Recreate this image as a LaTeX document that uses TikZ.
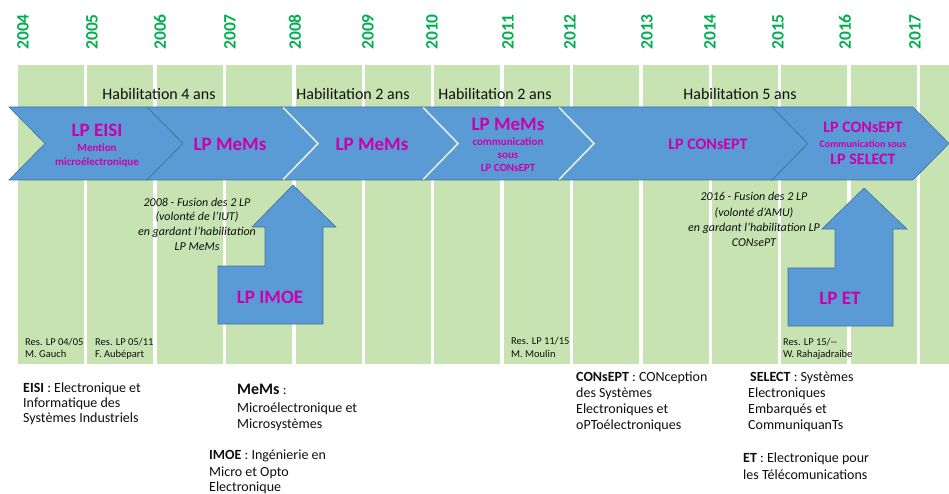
\documentclass[tikz,border=0pt]{standalone}
\usepackage{fontspec}
\setmainfont{Carlito}
\definecolor{yeargreen}{RGB}{0,176,80}
\definecolor{colgreen}{RGB}{200,227,178}
\definecolor{chevblue}{RGB}{91,155,213}
\definecolor{chevline}{RGB}{65,113,156}
\definecolor{lightline}{RGB}{226,240,217}
\definecolor{lpmag}{RGB}{204,0,170}
\definecolor{bodytext}{RGB}{15,15,15}
\tikzset{
  yearlbl/.style={rotate=90, text=yeargreen, inner sep=0,
    font=\fontsize{17.5}{18}\selectfont\bfseries},
  colbar/.style={fill=colgreen, draw=none},
  habil/.style={anchor=base, inner sep=0, text=bodytext, font=\fontsize{16}{18}\selectfont},
  chev/.style={fill=chevblue, draw=chevline, line width=0.6pt, line join=miter},
  notchlight/.style={draw=lightline, line width=1.6pt},
  uparrow/.style={fill=chevblue, draw=chevline, line width=0.6pt},
  lpbig/.style={anchor=base, inner sep=0, text=lpmag,
    font=\fontsize{19}{21}\selectfont\bfseries},
  lpmid/.style={anchor=base, inner sep=0, text=lpmag,
    font=\fontsize{16}{18}\selectfont\bfseries},
  lpsmall/.style={anchor=base, inner sep=0, text=lpmag,
    font=\fontsize{11}{13}\selectfont\bfseries},
  lptiny/.style={anchor=base, inner sep=0, text=lpmag,
    font=\fontsize{10}{12}\selectfont\bfseries},
  note/.style={anchor=base, inner sep=0, text=bodytext,
    font=\fontsize{12}{14}\selectfont\itshape},
  resp/.style={anchor=base west, inner sep=0, text=bodytext,
    font=\fontsize{10.5}{12}\selectfont},
  gloss/.style={anchor=base west, inner sep=0, text=bodytext,
    font=\fontsize{14}{16}\selectfont},
}
\begin{document}
\begin{tikzpicture}[x=1pt, y=-1pt]
\useasboundingbox (0,0) rectangle (949,494);
\fill[white] (0,0) rectangle (949,494);

% year columns
\foreach \i in {0,...,13} {
  \fill[colgreen] ({18+69.4*\i},65) rectangle ({18+69.4*\i+66},364);
}

% year labels
\foreach \yr/\xx [count=\k] in {2004/23,2005/92,2006/160,2007/230,2008/295,
    2009/368,2010/432,2011/508,2012/570,2013/647,2014/710,2015/778,
    2016/845,2017/915} {
  \node[yearlbl] (yr\k) at (\xx,32) {\yr};
}

% accreditation periods
\node[habil] (hab1) at (159,100) {Habilitation 4 ans};
\node[habil] (hab2) at (353,100) {Habilitation 2 ans};
\node[habil] (hab3) at (495,100) {Habilitation 2 ans};
\node[habil] (hab4) at (740,100) {Habilitation 5 ans};

% chevron band
\foreach \L/\R in {9/147,147/282,282/422,422/558,558/772,772/913} {
  \filldraw[chev] (\L,107) -- (\R,107) -- (\R+36,143.5) -- (\R,180)
    -- (\L,180) -- (\L+36,143.5) -- cycle;
}
\foreach \L in {282,422,558} {
  \draw[notchlight] (\L+1,107.5) -- (\L+36,143.5) -- (\L+1,179.5);
}

% programme names in the band
\node[lpbig]   (eisi)   at (97,137)    {LP EISI};
\node[lpsmall] (eisiA)  at (97,151.5)  {Mention};
\node[lpsmall] (eisiB)  at (97,165.5)  {microélectronique};
\node[lpbig]   (mems1)  at (230,151)   {LP MeMs};
\node[lpbig]   (mems2)  at (372,151)   {LP MeMs};
\node[lpbig]   (mems3)  at (508,131)   {LP MeMs};
\node[lpsmall] (mems3A) at (508,145.5) {communication};
\node[lpsmall] (mems3B) at (508,158.5) {sous};
\node[lpsmall] (mems3C) at (508,171.5) {LP CONsEPT};
\node[lpmid]   (cons1)  at (708,150)   {LP CONsEPT};
\node[lpmid]   (cons2)  at (863,133)   {LP CONsEPT};
\node[lptiny]  (cons2A) at (863,148)   {Communication sous};
\node[lpmid]   (cons2B) at (863,165)   {LP SELECT};

% merging arrows
\filldraw[uparrow] (218,266) -- (265,266) -- (265,227) -- (252,227)
  -- (293,185) -- (336,227) -- (323,227) -- (323,324) -- (218,324) -- cycle;
\node[lpbig] (imoe) at (270,303) {LP IMOE};
\filldraw[uparrow] (788,268) -- (835,268) -- (835,229) -- (822,229)
  -- (864,188) -- (907,229) -- (893,229) -- (893,326) -- (788,326) -- cycle;
\node[lpbig] (et) at (840,304) {LP ET};

% merger notes
\node[note] (n1a) at (197,207) {2008 - Fusion des 2 LP};
\node[note] (n1b) at (197,221) {(volonté de l’IUT)};
\node[note] (n1c) at (197,236) {en gardant l’habilitation};
\node[note] (n1d) at (197,250) {LP MeMs};
\node[note] (n2a) at (754,201) {2016 - Fusion des 2 LP};
\node[note] (n2b) at (754,216) {(volonté d’AMU)};
\node[note] (n2c) at (754,231) {en gardant l’habilitation LP};
\node[note] (n2d) at (754,246) {CONsePT};

% heads of the programme
\node[resp] (r1a) at (25,345.5)  {Res. LP 04/05};
\node[resp] (r1b) at (25,357.5)  {M. Gauch};
\node[resp] (r2a) at (95,345.5)  {Res. LP 05/11};
\node[resp] (r2b) at (95,357.5)  {F. Aubépart};
\node[resp] (r3a) at (511,344.5) {Res. LP 11/15};
\node[resp] (r3b) at (511,357.5) {M. Moulin};
\node[resp] (r4a) at (783,345.5) {Res. LP 15/-{}-};
\node[resp] (r4b) at (783,357.5) {W. Rahajadraibe};

% acronyms
\node[gloss] (g1a) at (23,392.5) {\textbf{EISI} : Electronique et};
\node[gloss] (g1b) at (23,407.5) {Informatique des};
\node[gloss] (g1c) at (23,422.5) {Systèmes Industriels};

\node[gloss] (g2a) at (237,394)   {{\fontsize{16}{18}\selectfont\bfseries MeMs} :};
\node[gloss] (g2b) at (237,412.5) {Microélectronique et};
\node[gloss] (g2c) at (237,428.5) {Microsystèmes};

\node[gloss] (g3a) at (209,459.5) {\textbf{IMOE} : Ingénierie en};
\node[gloss] (g3b) at (209,476.5) {Micro et Opto};
\node[gloss] (g3c) at (209,491.5) {Electronique};

\node[gloss] (g4a) at (576,381.5) {\textbf{CONsEPT} : CONception};
\node[gloss] (g4b) at (576,397.5) {des Systèmes};
\node[gloss] (g4c) at (576,413.5) {Electroniques et};
\node[gloss] (g4d) at (576,429.5) {oPToélectroniques};

\node[gloss] (g5a) at (750,381.5) {\textbf{SELECT} : Systèmes};
\node[gloss] (g5b) at (748,397.5) {Electroniques};
\node[gloss] (g5c) at (748,413.5) {Embarqués et};
\node[gloss] (g5d) at (748,429.5) {CommuniquanTs};

\node[gloss] (g6a) at (743,462.5) {\textbf{ET} : Electronique pour};
\node[gloss] (g6b) at (743,479.5) {les Télécomunications};
\end{tikzpicture}
\end{document}
